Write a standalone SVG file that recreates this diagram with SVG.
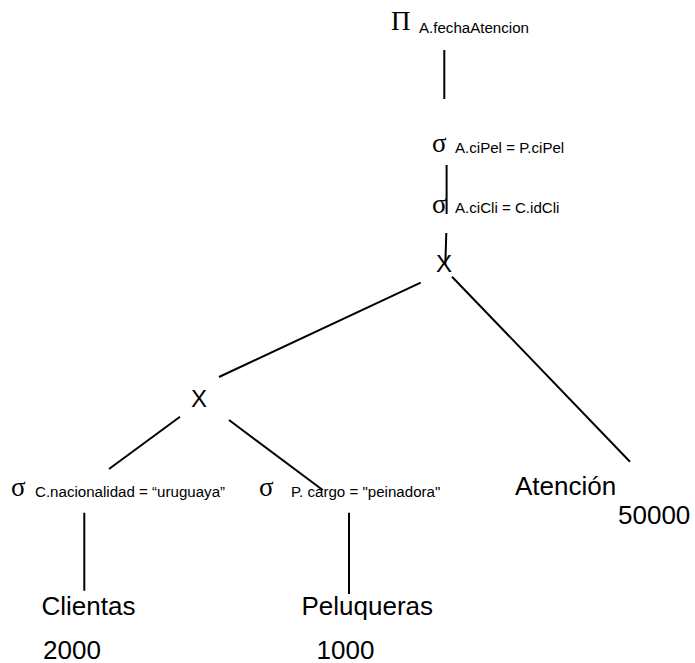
<svg xmlns="http://www.w3.org/2000/svg" width="695" height="663" viewBox="0 0 695 663">
  <style>
    .op { font-family: "Liberation Serif", "Times New Roman", serif; font-size: 27px; fill: #000; }
    .cond { font-family: "Liberation Sans", Arial, sans-serif; font-size: 15.1px; fill: #000; }
    .rel { font-family: "Liberation Sans", Arial, sans-serif; font-size: 26px; fill: #000; }
    .x { font-family: "Liberation Sans", Arial, sans-serif; font-size: 24px; fill: #000; }
    .edge { stroke: #000; stroke-width: 2; fill: none; }
  </style>
  <rect width="695" height="663" fill="#fff"/>

  <!-- tree edges -->
  <g id="connectors">
    <line class="edge" x1="444.3" y1="50" x2="444.3" y2="99"/>
    <line class="edge" x1="446.6" y1="165" x2="446.6" y2="214"/>
    <line class="edge" x1="446.3" y1="233" x2="445.3" y2="265"/>
    <line class="edge" x1="420.7" y1="282.7" x2="219" y2="377"/>
    <line class="edge" x1="452" y1="276.7" x2="630" y2="461.7"/>
    <line class="edge" x1="180" y1="416.7" x2="109" y2="469"/>
    <line class="edge" x1="229" y1="420" x2="322.7" y2="490"/>
    <line class="edge" x1="84.3" y1="512.7" x2="84.3" y2="590.7"/>
    <line class="edge" x1="349" y1="512.7" x2="349" y2="594"/>
  </g>

  <!-- projection -->
  <g id="proj">
    <text class="op" x="391" y="30">Π</text>
    <text class="cond" x="419" y="33">A.fechaAtencion</text>
  </g>

  <!-- selections on the join -->
  <g id="sel-pel">
    <text class="op" x="432" y="152">σ</text>
    <text class="cond" x="455" y="153">A.ciPel = P.ciPel</text>
  </g>
  <g id="sel-cli">
    <text class="op" x="432" y="213">σ</text>
    <text class="cond" x="455" y="213">A.ciCli = C.idCli</text>
  </g>

  <!-- products -->
  <g id="prod-top">
    <text class="x" x="436" y="272">X</text>
  </g>
  <g id="prod-left">
    <text class="x" x="191" y="407">X</text>
  </g>

  <!-- leaf selections -->
  <g id="sel-nac">
    <text class="op" x="11" y="496">σ</text>
    <text class="cond" x="35" y="497">C.nacionalidad = “uruguaya”</text>
  </g>
  <g id="sel-cargo">
    <text class="op" x="259" y="496">σ</text>
    <text class="cond" x="291" y="497">P. cargo = "peinadora"</text>
  </g>

  <!-- relations -->
  <g id="atencion">
    <text class="rel" x="515" y="495">Atención</text>
    <text class="rel" x="618" y="524">50000</text>
  </g>
  <g id="clientas">
    <text class="rel" x="41.5" y="615">Clientas</text>
    <text class="rel" x="43" y="659">2000</text>
  </g>
  <g id="peluqueras">
    <text class="rel" x="301.5" y="615">Peluqueras</text>
    <text class="rel" x="316.5" y="659">1000</text>
  </g>
</svg>
